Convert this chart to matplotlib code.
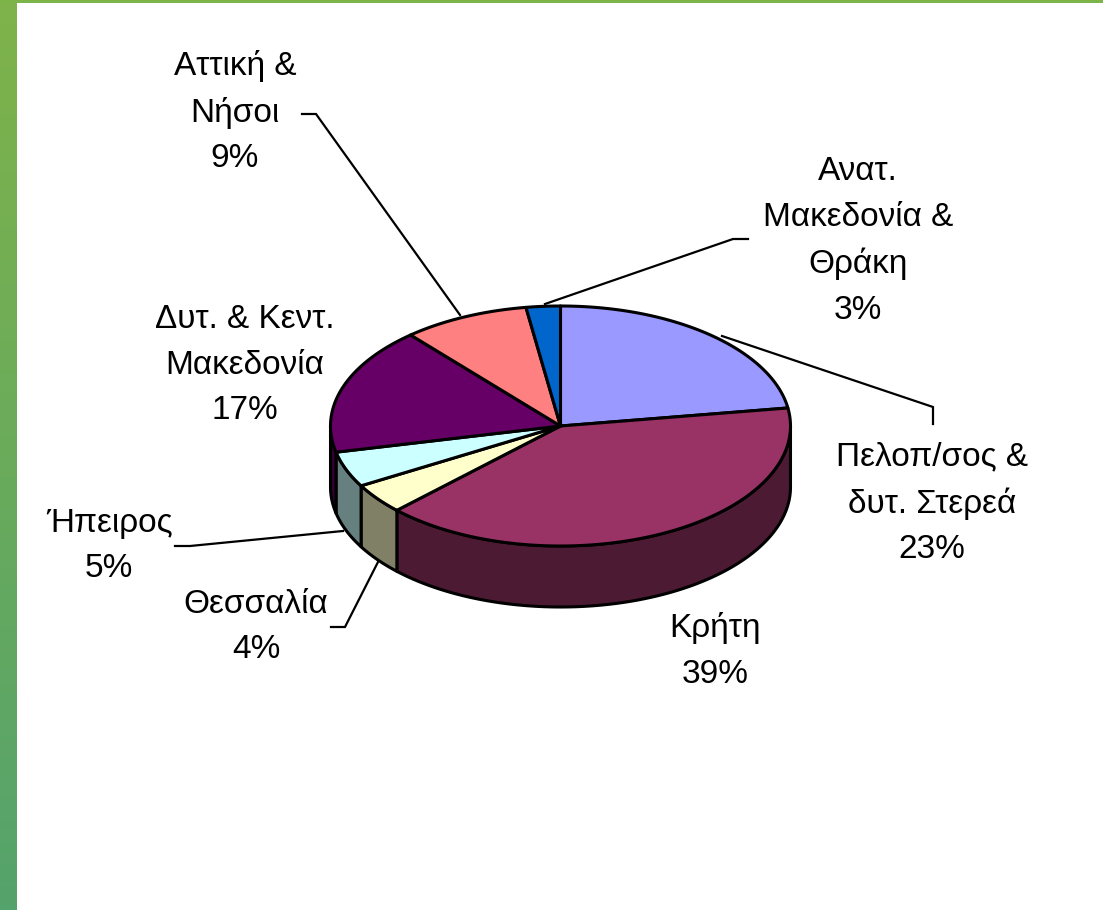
import numpy as np
import matplotlib
matplotlib.use('Agg')
import matplotlib.pyplot as plt
from matplotlib.patches import Polygon

labels = ['Πελοπ/σος &\nδυτ. Στερεά\n23%', 'Κρήτη\n39%', 'Θεσσαλία\n4%', 'Ήπειρος\n5%',
          'Δυτ. & Κεντ.\nΜακεδονία\n17%', 'Αττική &\nΝήσοι\n9%', 'Ανατ.\nΜακεδονία &\nΘράκη\n3%']
# slice sizes as measured on the drawn pie, the 3d view shifts them a bit from the labels
values = [22.6, 40.0, 4.1, 4.8, 17.2, 8.9, 2.4]
top_colors = ['#9999FF', '#993366', '#FFFFCC', '#CCFFFF', '#660066', '#FF8080', '#0066CC']
side_colors = ['#4D4D80', '#4D1A33', '#808066', '#668080', '#330033', '#804040', '#003366']

label_pos = [(932, 503), (715, 651), (256, 627), (109, 546), (245, 365), (235, 112), (858, 241)]
leaders = [
    [(933, 424), (933, 407), (722, 336)],
    [(378, 562), (345, 627), (331, 627)],
    [(175, 546), (190, 546), (343, 531)],
    [(302, 114), (316, 114), (460, 315)],
    [(748, 239), (733, 239), (545, 304)],
]

cx, cy = 560.5, 426
rx, ry = 230, 120
depth = 61

plt.rcParams['font.family'] = ['Liberation Sans', 'DejaVu Sans']

fig = plt.figure(figsize=(11.03, 9.10), dpi=100)
ax = fig.add_axes([0, 0, 1, 1])
ax.set_xlim(0, 1103)
ax.set_ylim(910, 0)
ax.axis('off')

# green frame, left strip fades downwards
grad = np.linspace(0, 1, 256).reshape(-1, 1, 1)
strip = (1 - grad) * np.array([0x7F, 0xB3, 0x4A]) + grad * np.array([0x55, 0xA3, 0x6C])
ax.imshow(strip / 255, extent=(0, 17, 910, 0), aspect='auto', zorder=1)
ax.fill_between([0, 1103], 0, 3, color='#7CB44A', lw=0, zorder=1)
ax.set_xlim(0, 1103)
ax.set_ylim(910, 0)


def rim(a, b):
    t = np.radians(np.linspace(a, b, max(int(abs(b - a) * 2), 2)))
    return cx + rx * np.sin(t), cy - ry * np.cos(t)


edges = np.concatenate([[0], np.cumsum(values)]) * 360 / sum(values)

# walls first, only the front half of the rim shows
for i in range(len(values)):
    a = max(edges[i], 90)
    b = min(edges[i + 1], 270)
    if a >= b:
        continue
    x, y = rim(a, b)
    pts = np.column_stack([np.r_[x, x[::-1]], np.r_[y, y[::-1] + depth]])
    ax.add_patch(Polygon(pts, closed=True, fc=side_colors[i], ec='black', lw=2.2,
                         joinstyle='round', zorder=3))

# top slices
for i in range(len(values)):
    x, y = rim(edges[i], edges[i + 1])
    pts = np.column_stack([np.r_[cx, x], np.r_[cy, y]])
    ax.add_patch(Polygon(pts, closed=True, fc=top_colors[i], ec='black', lw=2.2,
                         joinstyle='round', zorder=4))

for line in leaders:
    xs, ys = zip(*line)
    ax.plot(xs, ys, color='black', lw=1.6, zorder=2, solid_joinstyle='miter')

for lab, (x, y) in zip(labels, label_pos):
    ax.text(x, y, lab, ha='center', va='center', ma='center', fontsize=24,
            color='black', linespacing=1.6, zorder=5)

fig.savefig('out.png', dpi=100)
